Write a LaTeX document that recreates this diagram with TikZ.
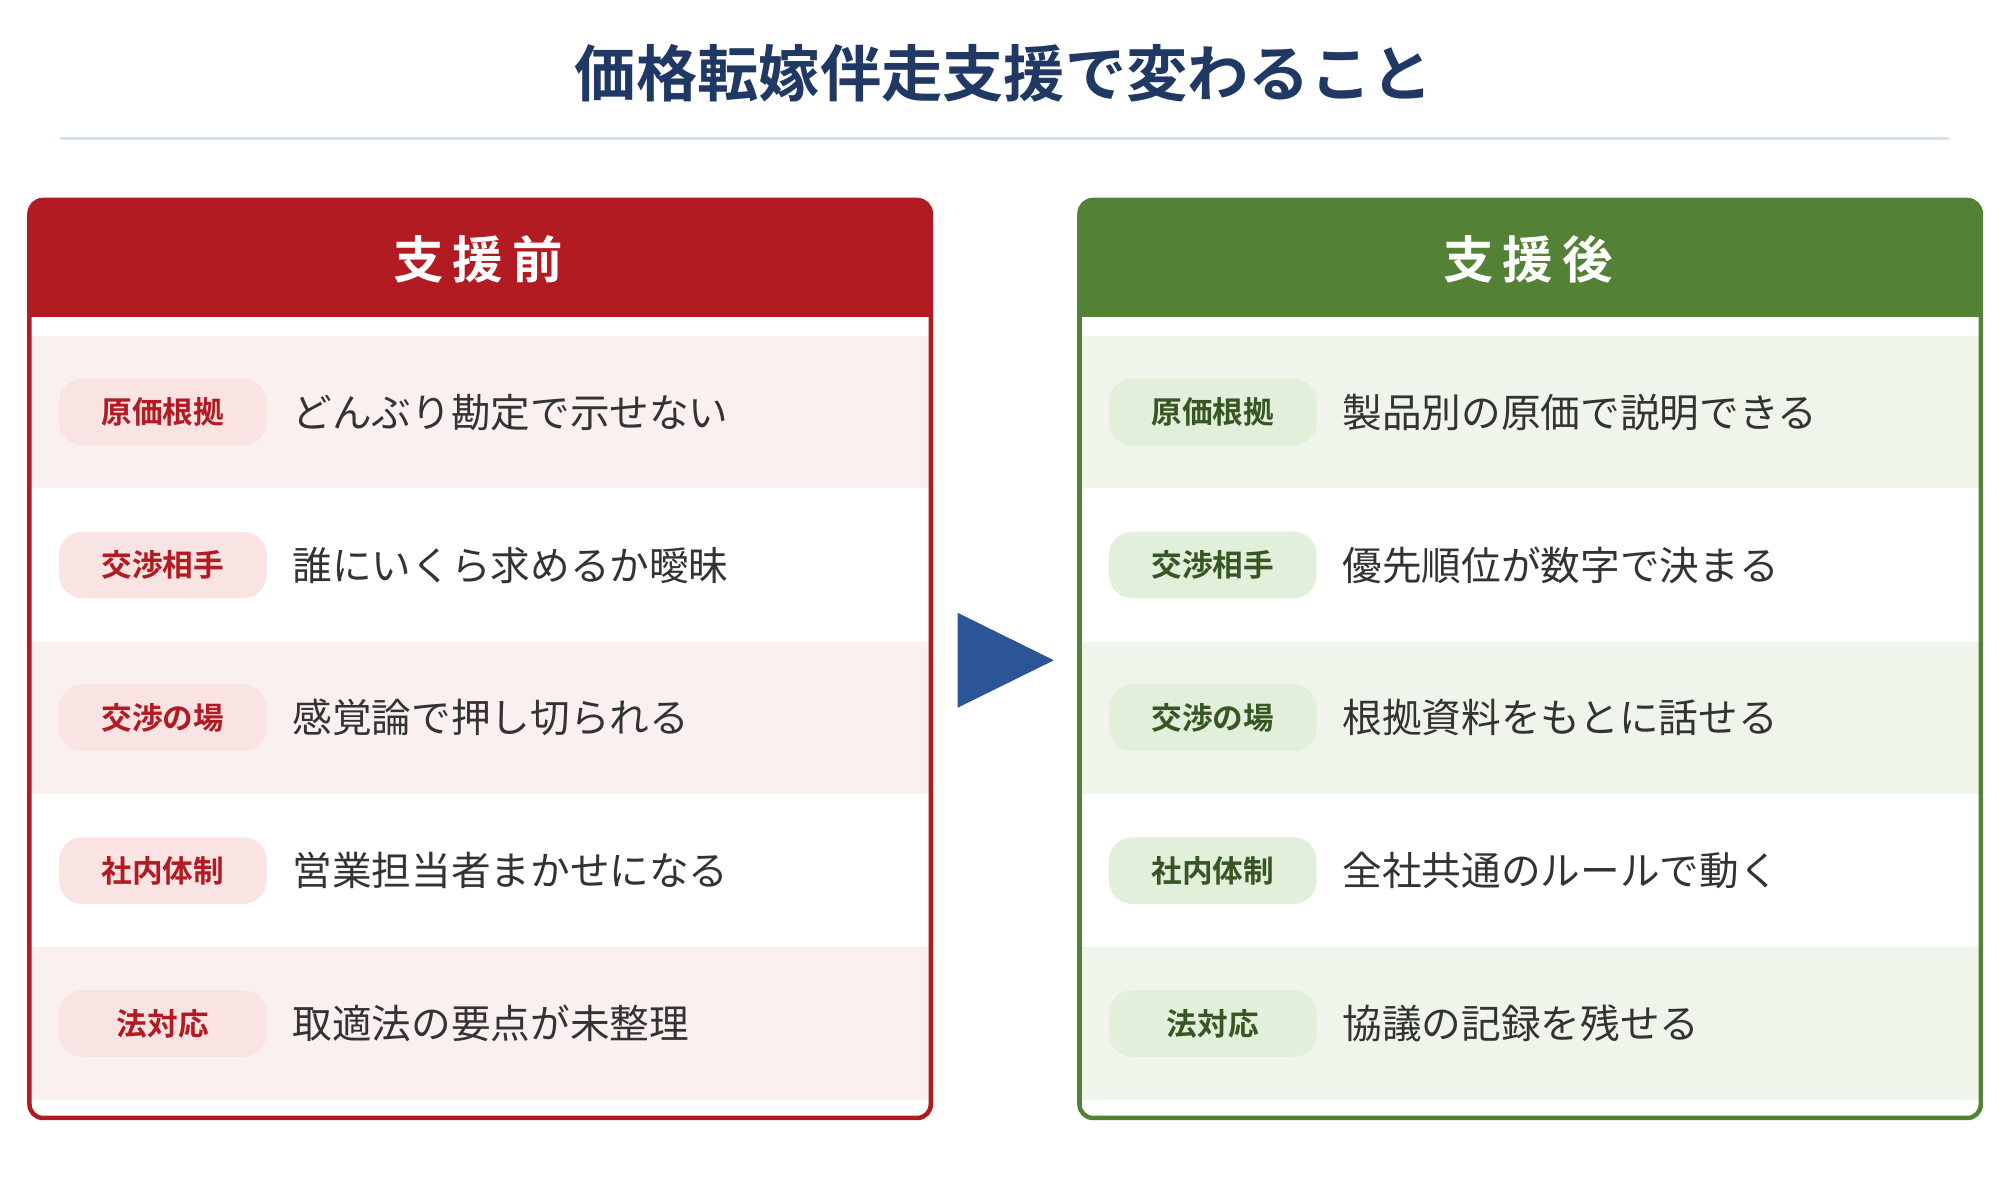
\documentclass[tikz,border=0pt]{standalone}
\usepackage{fontspec}
\setmainfont{Noto Sans CJK JP}
\newfontfamily\jpbold{Noto Sans CJK JP Bold}
\usetikzlibrary{positioning}
\definecolor{navy}{HTML}{1F3864}
\definecolor{rulec}{HTML}{D6E0F0}
\definecolor{redc}{HTML}{B31B23}
\definecolor{redrow}{HTML}{FAF0F0}
\definecolor{redpill}{HTML}{F9E3E3}
\definecolor{greenc}{HTML}{538135}
\definecolor{greenrow}{HTML}{EFF5EA}
\definecolor{greenpill}{HTML}{E2EFDA}
\definecolor{greentxt}{HTML}{375623}
\definecolor{bodytxt}{HTML}{333333}
\definecolor{arrowc}{HTML}{2B5597}
\newcommand{\hsp}{\hspace{0.18em}}
\tikzset{
  pill/.style={rounded corners=26, minimum width=162*0.05cm, minimum height=52*0.05cm,
               inner sep=0pt, font=\jpbold\fontsize{34}{34}\selectfont},
  item/.style={anchor=west, inner sep=0pt, text=bodytxt, font=\fontsize{44}{44}\selectfont},
  head/.style={text=white, font=\jpbold\fontsize{56}{56}\selectfont}
}
\begin{document}
\begin{tikzpicture}[x=0.05cm, y=-0.05cm]
  \useasboundingbox (0,0) rectangle (1560,930);
  % title
  \node[text=navy, font=\jpbold\fontsize{68}{68}\selectfont] (title) at (783,57) {価格転嫁伴走支援で変わること};
  \draw[rulec, line width=3] (47,108) -- (1520,108);
  % arrow
  \fill[arrowc] (747,478) -- (747,552) -- (822,515) -- cycle;
  % left panel
  \begin{scope}
    \clip[rounded corners=15] (23,156) rectangle (726,872);
    \fill[redc] (23,156) rectangle (726,247);
    \foreach \r in {0,2,4} {\fill[redrow] (23,262+\r*119.2) rectangle (726,381+\r*119.2);}
  \end{scope}
  \draw[redc, line width=5, rounded corners=15] (23,156) rectangle (726,872);
  \node[head] (before) at (373,202) {支\hsp 援\hsp 前};
  \foreach \lab/\txt [count=\i from 0] in {原価根拠/どんぶり勘定で示せない, 交渉相手/誰にいくら求めるか曖昧,
      交渉の場/感覚論で押し切られる, 社内体制/営業担当者まかせになる, 法対応/取適法の要点が未整理}
  {
    \node[pill, fill=redpill, text=redc] (bp\i) at (127,321.5+\i*119.2) {\lab};
    \node[item] (bt\i) at (228,321.5+\i*119.2) {\txt};
  }
  % right panel
  \begin{scope}
    \clip[rounded corners=15] (842,156) rectangle (1545,872);
    \fill[greenc] (842,156) rectangle (1545,247);
    \foreach \r in {0,2,4} {\fill[greenrow] (842,262+\r*119.2) rectangle (1545,381+\r*119.2);}
  \end{scope}
  \draw[greenc, line width=5, rounded corners=15] (842,156) rectangle (1545,872);
  \node[head] (after) at (1192,202) {支\hsp 援\hsp 後};
  \foreach \lab/\txt [count=\i from 0] in {原価根拠/製品別の原価で説明できる, 交渉相手/優先順位が数字で決まる,
      交渉の場/根拠資料をもとに話せる, 社内体制/全社共通のルールで動く, 法対応/協議の記録を残せる}
  {
    \node[pill, fill=greenpill, text=greentxt] (ap\i) at (946,321.5+\i*119.2) {\lab};
    \node[item] (at\i) at (1047,321.5+\i*119.2) {\txt};
  }
\end{tikzpicture}
\end{document}
